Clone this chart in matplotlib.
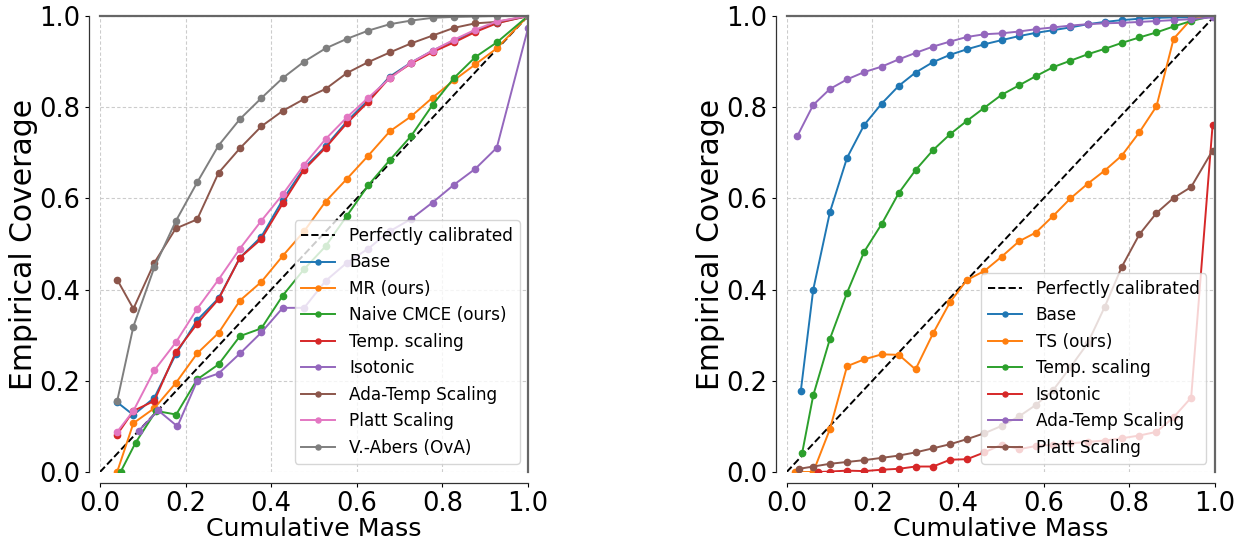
import matplotlib
matplotlib.use("Agg")
import matplotlib.pyplot as plt

# ---------------- Left panel data ----------------
left_labels = ["Base", "MR (ours)", "Naive CMCE (ours)", "Temp. scaling",
               "Isotonic", "Ada-Temp Scaling", "Platt Scaling", "V.-Abers (OvA)"]
left_x = [0.04, 0.078, 0.127, 0.177, 0.227, 0.277, 0.327, 0.377, 0.427, 0.477,
          0.527, 0.577, 0.627, 0.677, 0.727, 0.777, 0.827, 0.877, 0.927, 1.0]
left_base = [0.153, 0.125, 0.163, 0.258, 0.333, 0.381, 0.470, 0.516, 0.597, 0.667,
             0.714, 0.769, 0.816, 0.867, 0.898, 0.924, 0.946, 0.968, 0.985, 1.0]
left_mr = [0.0, 0.107, 0.140, 0.195, 0.260, 0.305, 0.376, 0.417, 0.474, 0.528,
           0.593, 0.643, 0.694, 0.747, 0.780, 0.821, 0.859, 0.894, 0.929, 1.0]
left_naive_x = [0.048, 0.083, 0.131, 0.178, 0.227, 0.277, 0.327, 0.377, 0.427, 0.477,
                0.527, 0.577, 0.627, 0.677, 0.727, 0.777, 0.827, 0.877, 0.927, 1.0]
left_naive = [0.0, 0.064, 0.134, 0.126, 0.203, 0.236, 0.298, 0.315, 0.387, 0.445,
              0.495, 0.562, 0.629, 0.684, 0.737, 0.805, 0.864, 0.910, 0.942, 1.0]
left_temp = [0.082, 0.134, 0.156, 0.263, 0.325, 0.379, 0.470, 0.511, 0.589, 0.663,
             0.711, 0.765, 0.812, 0.865, 0.896, 0.921, 0.942, 0.965, 0.984, 1.0]
left_iso_x = [0.09, 0.136, 0.181, 0.227, 0.277, 0.327, 0.377, 0.427, 0.477, 0.527,
              0.577, 0.627, 0.677, 0.727, 0.777, 0.827, 0.877, 0.927, 1.0]
left_iso = [0.09, 0.135, 0.10, 0.20, 0.216, 0.26, 0.306, 0.36, 0.36, 0.419,
            0.459, 0.49, 0.528, 0.555, 0.591, 0.63, 0.665, 0.711, 0.973]
left_ada = [0.422, 0.358, 0.459, 0.534, 0.554, 0.656, 0.710, 0.758, 0.792, 0.818,
            0.840, 0.875, 0.899, 0.920, 0.940, 0.957, 0.974, 0.984, 0.987, 1.0]
left_platt = [0.088, 0.134, 0.223, 0.284, 0.358, 0.422, 0.490, 0.551, 0.609, 0.674,
              0.730, 0.778, 0.821, 0.863, 0.898, 0.924, 0.948, 0.970, 0.988, 1.0]
left_abers = [0.155, 0.319, 0.449, 0.550, 0.635, 0.716, 0.774, 0.820, 0.864, 0.900,
              0.929, 0.950, 0.968, 0.982, 0.990, 0.996, 0.998, 0.999, 1.0, 1.0]

# ---------------- Right panel data ----------------
right_labels = ["Base", "TS (ours)", "Temp. scaling", "Isotonic",
                "Ada-Temp Scaling", "Platt Scaling"]
right_x = [0.025, 0.062, 0.101, 0.141, 0.181, 0.222, 0.262, 0.301, 0.342, 0.382,
           0.421, 0.462, 0.502, 0.543, 0.582, 0.623, 0.663, 0.703, 0.743, 0.783,
           0.824, 0.864, 0.904, 0.945, 0.995]
right_base_x = [0.033] + right_x[1:]
right_base = [0.178, 0.400, 0.570, 0.689, 0.761, 0.808, 0.847, 0.876, 0.899, 0.915,
              0.927, 0.938, 0.947, 0.956, 0.963, 0.969, 0.975, 0.982, 0.987, 0.991,
              0.994, 0.996, 0.997, 0.997, 1.0]
right_ts_x = [0.02] + right_x[1:]
right_ts = [0.0, 0.0, 0.094, 0.232, 0.247, 0.258, 0.257, 0.225, 0.304, 0.373,
            0.421, 0.441, 0.472, 0.506, 0.525, 0.562, 0.600, 0.632, 0.661, 0.694,
            0.745, 0.802, 0.950, 0.993, 1.0]
right_temp_x = [0.036] + right_x[1:]
right_temp = [0.041, 0.168, 0.292, 0.393, 0.483, 0.544, 0.612, 0.662, 0.706, 0.741,
              0.770, 0.799, 0.827, 0.848, 0.868, 0.888, 0.902, 0.916, 0.928, 0.941,
              0.953, 0.964, 0.977, 0.989, 1.0]
right_iso_x = [0.074] + right_x[2:]
right_iso = [0.0, 0.001, 0.003, 0.002, 0.005, 0.007, 0.012, 0.012, 0.027,
             0.028, 0.043, 0.060, 0.050, 0.057, 0.060, 0.063, 0.066, 0.069, 0.074,
             0.080, 0.088, 0.120, 0.163, 0.760]
right_ada = [0.737, 0.805, 0.840, 0.861, 0.877, 0.889, 0.905, 0.919, 0.933, 0.944,
             0.954, 0.960, 0.962, 0.966, 0.971, 0.975, 0.979, 0.982, 0.984, 0.985,
             0.987, 0.989, 0.991, 0.993, 0.997]
right_platt_x = [0.029] + right_x[1:]
right_platt = [0.007, 0.012, 0.018, 0.022, 0.026, 0.031, 0.036, 0.043, 0.052, 0.061,
               0.072, 0.085, 0.101, 0.122, 0.147, 0.180, 0.230, 0.282, 0.362, 0.450,
               0.521, 0.568, 0.601, 0.625, 0.705]

ticks = [0.0, 0.2, 0.4, 0.6, 0.8, 1.0]
tick_labels = ["0.0", "0.2", "0.4", "0.6", "0.8", "1.0"]

colors = plt.rcParams['axes.prop_cycle'].by_key()['color']

fig = plt.figure(figsize=(12.47, 5.41), dpi=100)
W, H = 1247, 541
ax1 = fig.add_axes([100 / W, 1 - 472 / H, 428 / W, 456 / H])
ax2 = fig.add_axes([786.7 / W, 1 - 472 / H, 428 / W, 456 / H])

LW = 1.4
MS = 4.5


def style(ax):
    ax.set_xlim(0, 1)
    ax.set_ylim(0, 1)
    ax.grid(True, linestyle=(0, (3, 2)), color='#cccccc', linewidth=0.8)
    ax.set_axisbelow(True)
    ax.spines['left'].set_position(('outward', 8))
    ax.spines['bottom'].set_position(('outward', 8))
    for s in ('left', 'bottom'):
        ax.spines[s].set_color('#333333')
        ax.spines[s].set_linewidth(0.9)
    for s in ('top', 'right'):
        ax.spines[s].set_color('#666666')
        ax.spines[s].set_linewidth(1.6)
    ax.set_xticks(ticks)
    ax.set_xticklabels(tick_labels)
    ax.set_yticks(ticks)
    ax.set_yticklabels(tick_labels)
    ax.tick_params(labelsize=18.5, length=3, width=0.8, pad=3)
    ax.set_xlabel("Cumulative Mass", fontsize=18.2, labelpad=-0.5)
    ax.set_ylabel("Empirical Coverage", fontsize=21.5, labelpad=1)


# Left panel
ax1.plot([0, 1], [0, 1], 'k--', lw=1.4, label="Perfectly calibrated")
left_series = [
    (left_x, left_base), (left_x, left_mr), (left_naive_x, left_naive),
    (left_x, left_temp), (left_iso_x, left_iso), (left_x, left_ada),
    (left_x, left_platt), (left_x, left_abers),
]
for i, ((xs, ys), lab) in enumerate(zip(left_series, left_labels)):
    ax1.plot(xs, ys, marker='o', ms=MS, lw=LW, color=colors[i], label=lab)
style(ax1)
ax1.legend(loc='lower right', fontsize=12.2, markerscale=0.8)

# Right panel
ax2.plot([0, 1], [0, 1], 'k--', lw=1.4, label="Perfectly calibrated")
right_series = [
    (right_base_x, right_base), (right_ts_x, right_ts), (right_temp_x, right_temp),
    (right_iso_x, right_iso), (right_x, right_ada), (right_platt_x, right_platt),
]
for i, ((xs, ys), lab) in enumerate(zip(right_series, right_labels)):
    ax2.plot(xs, ys, marker='o', ms=MS, lw=LW, color=colors[i], label=lab)
style(ax2)
ax2.legend(loc='lower right', fontsize=12.2, markerscale=0.8)

fig.savefig("out.png", dpi=100)
